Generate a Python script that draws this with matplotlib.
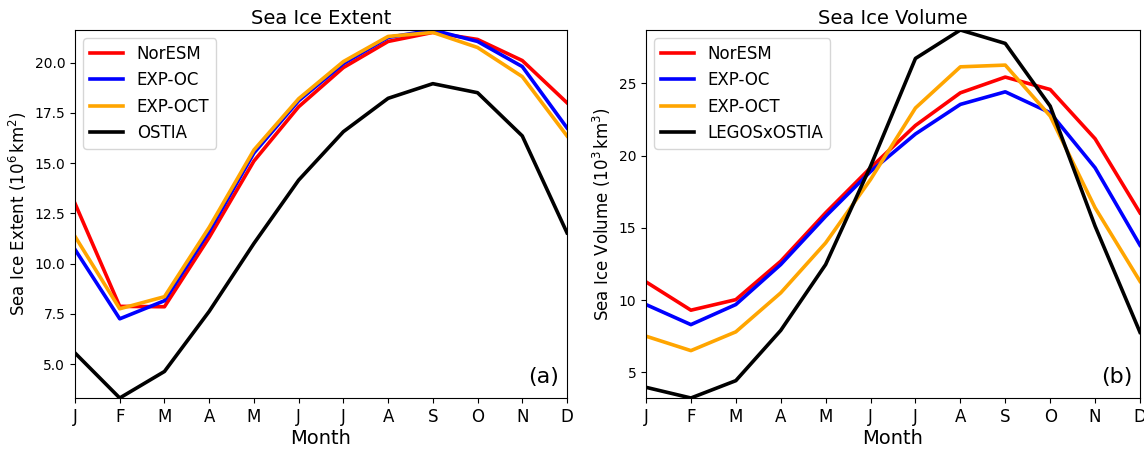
import matplotlib
matplotlib.use("Agg")
import matplotlib.pyplot as plt
import numpy as np

months = ["J", "F", "M", "A", "M", "J", "J", "A", "S", "O", "N", "D"]

# sea ice extent (10^6 km2)
ext_noresm = [12.99, 7.87, 7.85, 11.3, 15.1, 17.8, 19.75, 21.05, 21.5, 21.15, 20.1, 18.0]
ext_exp_oc = [10.7, 7.25, 8.15, 11.6, 15.5, 18.1, 19.95, 21.25, 21.62, 21.05, 19.8, 16.75]
ext_exp_oct = [11.35, 7.75, 8.35, 11.8, 15.65, 18.2, 20.05, 21.3, 21.5, 20.75, 19.3, 16.35]
ext_ostia = [5.55, 3.31, 4.63, 7.62, 11.0, 14.15, 16.56, 18.22, 18.95, 18.5, 16.35, 11.53]

# sea ice volume (10^3 km3)
vol_noresm = [11.26, 9.3, 10.03, 12.69, 16.04, 19.16, 22.09, 24.35, 25.44, 24.58, 21.17, 16.04]
vol_exp_oc = [9.69, 8.3, 9.69, 12.46, 15.8, 18.9, 21.5, 23.55, 24.42, 22.97, 19.16, 13.8]
vol_exp_oct = [7.5, 6.5, 7.8, 10.5, 13.96, 18.35, 23.3, 26.15, 26.27, 22.74, 16.39, 11.3]
vol_legos = [3.96, 3.22, 4.42, 7.9, 12.46, 19.27, 26.73, 28.7, 27.77, 23.43, 15.12, 7.77]

x = np.arange(12)
lw = 2.6

fig = plt.figure(figsize=(11.44, 4.51), dpi=100)
ax1 = fig.add_axes([75/1144, 1-398/451, 492/1144, 368/451])
ax2 = fig.add_axes([646/1144, 1-398/451, 494/1144, 368/451])

def panel(ax, series, labels, title, ylabel, tag):
    colors = ["red", "blue", "orange", "black"]
    for s, lab, c in zip(series, labels, colors):
        ax.plot(x, s, color=c, lw=lw, label=lab)
    allv = np.concatenate([np.array(s) for s in series])
    ax.set_ylim(allv.min(), allv.max())
    ax.set_xlim(0, 11)
    ax.set_xticks(x)
    ax.set_xticklabels(months, fontsize=12)
    ax.tick_params(axis="y", labelsize=10)
    ax.set_title(title, fontsize=14, pad=4)
    ax.set_xlabel("Month", fontsize=14, labelpad=2)
    ax.set_ylabel(ylabel, fontsize=12)
    ax.legend(loc="upper left", fontsize=12, handlelength=2.0)
    ax.text(0.984, 0.03, tag, transform=ax.transAxes, ha="right", va="bottom", fontsize=16)

panel(ax1, [ext_noresm, ext_exp_oc, ext_exp_oct, ext_ostia],
      ["NorESM", "EXP-OC", "EXP-OCT", "OSTIA"],
      "Sea Ice Extent", r"Sea Ice Extent ($10^6\,$km$^2$)", "(a)")
panel(ax2, [vol_noresm, vol_exp_oc, vol_exp_oct, vol_legos],
      ["NorESM", "EXP-OC", "EXP-OCT", "LEGOSxOSTIA"],
      "Sea Ice Volume", r"Sea Ice Volume ($10^3\,$km$^3$)", "(b)")

fig.savefig("out.png", dpi=100)
